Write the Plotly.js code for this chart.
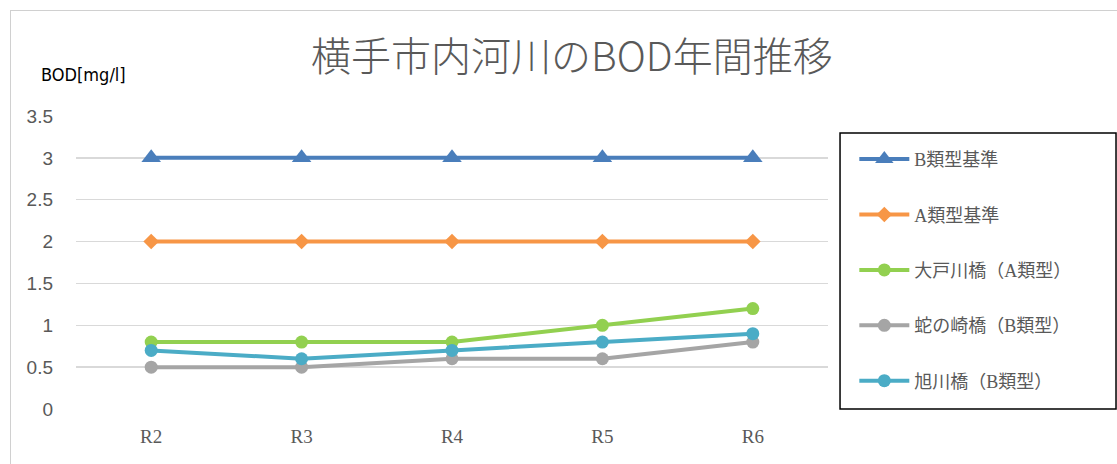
<!DOCTYPE html>
<html><head><meta charset="utf-8">
<script src="https://cdn.plot.ly/plotly-3.0.1.min.js"></script>
<style>
html,body{margin:0;padding:0;background:#fff;}
#frame{position:absolute;left:10px;top:10px;width:1200px;height:600px;border-left:1.5px solid #d0d0d0;border-top:1.5px solid #d0d0d0;}
#chart{position:absolute;left:0;top:0;width:1117px;height:464px;}
</style></head>
<body>
<div id="frame"></div>
<div id="chart"></div>
<script>
const categories = ['R2','R3','R4','R5','R6'];
const seriesNames = ['B類型基準','A類型基準','大戸川橋（A類型）','蛇の崎橋（B類型）','旭川橋（B類型）'];
const bStandard = [3,3,3,3,3];
const aStandard = [2,2,2,2,2];
const otoRiver = [0.8,0.8,0.8,1.0,1.2];
const janoSaki = [0.5,0.5,0.6,0.6,0.8];
const asahiRiver = [0.7,0.6,0.7,0.8,0.9];
const yTickVals = [0,0.5,1,1.5,2,2.5,3,3.5];
const yTickText = ['0','0.5','1','1.5','2','2.5','3','3.5'];

const serif = '"Liberation Serif", "Noto Sans CJK JP", serif';
const colors = ['#4a7ebb','#f79646','#92d050','#a5a5a5','#4bacc6'];
const symbols = ['triangle-up','diamond','circle','circle','circle'];
const sizes = [17,12,13,13,13];
const values = [bStandard,aStandard,otoRiver,janoSaki,asahiRiver];

const traces = values.map((v,i)=>({
  type:'scatter', mode:'lines+markers', x:categories, y:v, name:seriesNames[i],
  legendgroup:'g'+i,
  line:{color:colors[i], width:4},
  marker:{color:colors[i], symbol:symbols[i], size:sizes[i]}
}));

const layout = {
  width:1117, height:464,
  margin:{l:76, r:289, t:116, b:55},
  paper_bgcolor:'rgba(0,0,0,0)', plot_bgcolor:'rgba(0,0,0,0)',
  showlegend:true,
  title:{text:'横手市内河川のBOD年間推移', xref:'container', yref:'container', x:0.512, y:0.877, xanchor:'center', yanchor:'middle',
    font:{family:'"Noto Sans CJK JP", sans-serif', size:40, color:'#595959', weight:300}},
  xaxis:{type:'category', range:[-0.5,4.5], showgrid:false, zeroline:false, showline:false, ticks:'', ticklabelstandoff:14,
    tickfont:{family:serif, size:19, color:'#595959'}},
  yaxis:{range:[0,3.5], tickvals:yTickVals, ticktext:yTickText, showgrid:true, gridcolor:'#d9d9d9', gridwidth:1.3,
    zeroline:false, showline:false, ticks:'', ticklabelstandoff:22,
    tickfont:{family:'"Liberation Sans", "Open Sans", sans-serif', size:19, color:'#595959'}},
  legend:{x:1.035, y:0.915, xanchor:'left', yanchor:'top', itemwidth:50, tracegroupgap:29,
    font:{family:serif, size:18, color:'#595959'}, bgcolor:'rgba(0,0,0,0)', borderwidth:0},
  annotations:[{text:'BOD[mg/l]', xref:'paper', yref:'paper', x:-0.049, y:1.14, xanchor:'left', yanchor:'middle', showarrow:false,
    font:{family:'"Liberation Sans Narrow", "DejaVu Sans Condensed", "Liberation Sans", sans-serif', size:18, color:'#000'}}],
  shapes:[{type:'rect', xref:'paper', yref:'paper', x0:1.016, x1:1.383, y0:0, y1:0.942, line:{color:'#000', width:1.5}}]
};
Plotly.newPlot('chart', traces, layout, {displayModeBar:false, staticPlot:true});
</script>
</body></html>
